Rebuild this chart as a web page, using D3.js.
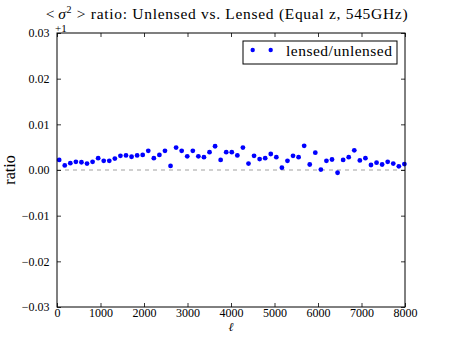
<!DOCTYPE html>
<html>
<head>
<meta charset="utf-8">
<script src="https://cdn.jsdelivr.net/npm/d3@7"></script>
<style>
  body { margin: 0; background: #fff; }
  svg { display: block; }
  svg text { font-family: "Liberation Serif", serif; fill: #000; }
</style>
</head>
<body>
<svg id="chart" width="450" height="338"></svg>
<script>
const titleText = "ratio: Unlensed vs. Lensed (Equal z, 545GHz)";
const seriesName = "lensed/unlensed";
const ell = [50,178,306,434,562,690,818,946,1074,1202,1330,1458,1586,1714,1842,1970,2098,2226,2354,2482,2610,2738,2866,2994,3122,3250,3378,3506,3634,3762,3890,4018,4146,4274,4402,4530,4658,4786,4914,5042,5170,5298,5426,5554,5682,5810,5938,6066,6194,6322,6450,6578,6706,6834,6962,7090,7218,7346,7474,7602,7730,7858,7986];
const ratioMinus1 = [0.0022,0.0010,0.0015,0.0018,0.0017,0.0014,0.0018,0.0026,0.0020,0.0020,0.0025,0.0031,0.0032,0.0029,0.0032,0.0033,0.0042,0.0026,0.0033,0.0042,0.0009,0.0049,0.0042,0.0030,0.0042,0.0030,0.0028,0.0039,0.0052,0.0022,0.0039,0.0039,0.0032,0.0049,0.0014,0.0031,0.0024,0.0026,0.0035,0.0028,0.0005,0.0020,0.0031,0.0028,0.0053,0.0012,0.0038,0.0001,0.0020,0.0023,-0.0006,0.0022,0.0028,0.0043,0.0021,0.0026,0.0011,0.0016,0.0012,0.0018,0.0014,0.0008,0.0013];
const xTicks = [0,1000,2000,3000,4000,5000,6000,7000,8000];
const yTicks = [-0.03,-0.02,-0.01,0.00,0.01,0.02,0.03];

const svg = d3.select("#chart");
const m = {left: 57, right: 405, top: 33, bottom: 307};
const x = d3.scaleLinear().domain([0, 8000]).range([m.left, m.right]);
const y = d3.scaleLinear().domain([-0.03, 0.03]).range([m.bottom, m.top]);

// zero dashed line
svg.append("line")
  .attr("x1", x(0)).attr("x2", x(8000))
  .attr("y1", y(0)).attr("y2", y(0))
  .attr("stroke", "#a0a0a0").attr("stroke-width", 1)
  .attr("stroke-dasharray", "4,4");

// points
svg.append("g").selectAll("circle").data(ell).join("circle")
  .attr("cx", (d) => x(d))
  .attr("cy", (d, i) => y(ratioMinus1[i]))
  .attr("r", 2.4)
  .attr("fill", "#0000ff");

const fmtY = (d) => d3.format(".2f")(d).replace("-", "\u2212");
const tickStyle = (g) => {
  g.attr("font-family", null).attr("font-size", null);
  g.select(".domain").remove();
  g.selectAll("line").attr("stroke", "#000").attr("stroke-width", 0.8);
  g.selectAll("text")
    .style("font-family", "'Liberation Serif', serif")
    .style("font-size", "12px");
};

// axes (ticks inward)
svg.append("g").attr("transform", `translate(0,${m.bottom})`)
  .call(d3.axisBottom(x).tickValues(xTicks).tickFormat(d3.format("d")).tickSizeInner(-4).tickSizeOuter(0).tickPadding(1))
  .call(tickStyle);
svg.append("g").attr("transform", `translate(0,${m.top})`)
  .call(d3.axisTop(x).tickValues(xTicks).tickFormat("").tickSizeInner(-4).tickSizeOuter(0))
  .call(tickStyle);
svg.append("g").attr("transform", `translate(${m.left},0)`)
  .call(d3.axisLeft(y).tickValues(yTicks).tickFormat(fmtY).tickSizeInner(-4).tickSizeOuter(0).tickPadding(7.5))
  .call(tickStyle);
svg.append("g").attr("transform", `translate(${m.right},0)`)
  .call(d3.axisRight(y).tickValues(yTicks).tickFormat("").tickSizeInner(-4).tickSizeOuter(0))
  .call(tickStyle);

// frame
svg.append("rect")
  .attr("x", m.left).attr("y", m.top)
  .attr("width", m.right - m.left).attr("height", m.bottom - m.top)
  .attr("fill", "none").attr("stroke", "#000").attr("stroke-width", 1);

// offset text
svg.append("text").attr("x", 55).attr("y", 31.5)
  .style("font-size", "11px").text("+1");

// title
const t = svg.append("text").attr("x", 227).attr("y", 19)
  .attr("text-anchor", "middle").style("font-size", "15.5px").style("letter-spacing", "0.7px");
t.append("tspan").text("<");
t.append("tspan").attr("font-style", "italic").attr("dx", 3).text("\u03C3");
t.append("tspan").style("font-size", "10px").attr("dy", -6).text("2");
t.append("tspan").attr("dy", 6).text(" > " + titleText);

// axis labels
svg.append("text").attr("x", x(4000)).attr("y", 331)
  .attr("text-anchor", "middle").attr("font-style", "italic").style("font-size", "12px").text("\u2113");
svg.append("text").attr("transform", `translate(15,${y(0)}) rotate(-90)`)
  .attr("text-anchor", "middle").style("font-size", "16px").text("ratio");

// legend
const lg = svg.append("g");
lg.append("rect").attr("x", 243).attr("y", 41).attr("width", 154).attr("height", 23)
  .attr("fill", "#fff").attr("stroke", "#000").attr("stroke-width", 1);
lg.selectAll("circle").data([252.7, 270.7]).join("circle")
  .attr("cx", (d) => d).attr("cy", 50).attr("r", 2.2).attr("fill", "#0000ff");
lg.append("text").attr("x", 286).attr("y", 55.5).style("font-size", "15.5px").style("letter-spacing", "0.5px").text(seriesName);
</script>
</body>
</html>
